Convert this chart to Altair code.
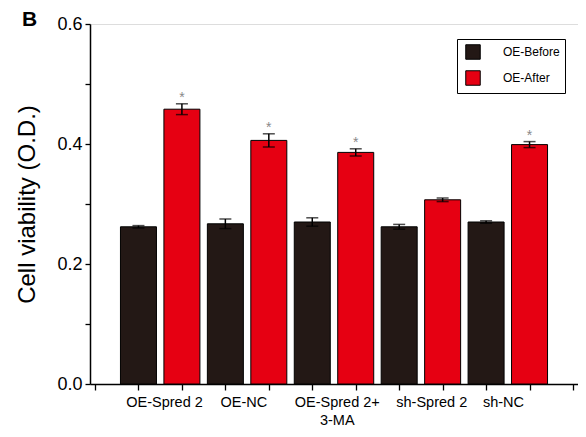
import altair as alt
import pandas as pd

groups = ["OE-Spred 2", "OE-NC", "OE-Spred 2+\n3-MA", "sh-Spred 2", "sh-NC"]
label_pos = [3.2, 6.85, 11.15, 15.5, 18.8]
before = [0.262, 0.267, 0.270, 0.262, 0.270]
before_err = [0.002, 0.008, 0.007, 0.004, 0.002]
after = [0.458, 0.406, 0.386, 0.307, 0.399]
after_err = [0.009, 0.011, 0.006, 0.003, 0.005]
stars = ["*", "*", "*", "", "*"]
series = ["OE-Before", "OE-After"]
colors = ["#231815", "#e60012"]

rows = []
for i, g in enumerate(groups):
    rows.append(dict(group=g, pos=2 + 4 * i, value=before[i], err=before_err[i],
                     series=series[0], star=""))
    rows.append(dict(group=g, pos=4 + 4 * i, value=after[i], err=after_err[i],
                     series=series[1], star=stars[i]))
df = pd.DataFrame(rows)
df["lo"] = df["value"] - df["err"]
df["hi"] = df["value"] + df["err"]

lab = pd.DataFrame({"label": groups, "pos": label_pos})

W, H = 488, 360
FONT = "Liberation Sans"

xs = alt.Scale(domain=[0, 22], nice=False, zero=False)
ys = alt.Scale(domain=[0, 0.6], nice=False)

x_axis = alt.Axis(values=list(range(23)), labels=False, tickSize=6, title=None,
                  domainColor="black", tickColor="black", domainWidth=1.5, tickWidth=1.3,
                  grid=False)
y_axis = alt.Axis(values=[0, 0.1, 0.2, 0.3, 0.4, 0.5, 0.6],
                  labelExpr="round(datum.value*10) % 2 == 0 ? format(datum.value, '.1f') : ''",
                  tickSize=5, grid=False, title="Cell viability (O.D.)",
                  titleFontSize=24, titleFont=FONT, titleFontWeight="normal",
                  titleColor="black", titlePadding=17,
                  labelFontSize=18, labelFont=FONT, labelColor="black", labelPadding=3,
                  domainColor="black", tickColor="black", domainWidth=1.5, tickWidth=1.3)

base = alt.Chart(df)

bars = base.mark_bar(size=36, stroke="black", strokeWidth=1).encode(
    x=alt.X("pos:Q", scale=xs, axis=x_axis),
    y=alt.Y("value:Q", scale=ys, axis=y_axis),
    color=alt.Color("series:N", scale=alt.Scale(domain=series, range=colors),
                    legend=alt.Legend(title=None, orient="none", legendX=367, legendY=15,
                                      symbolType="square", symbolSize=210,
                                      symbolStrokeColor="black", symbolStrokeWidth=1,
                                      symbolOpacity=1,
                                      labelFont=FONT, labelFontSize=12, labelColor="black",
                                      fillColor="white", strokeColor="black",
                                      padding=5, rowPadding=6, labelOffset=22,
                                      labelLimit=200, symbolOffset=3)),
)

rules = base.mark_rule(color="black", strokeWidth=1.5).encode(
    x="pos:Q", y="lo:Q", y2="hi:Q")
caps_hi = base.mark_tick(color="black", orient="horizontal", size=12, thickness=1.5).encode(
    x="pos:Q", y="hi:Q")
caps_lo = base.mark_tick(color="black", orient="horizontal", size=12, thickness=1.5).encode(
    x="pos:Q", y="lo:Q")
star_txt = base.mark_text(color="#888888", fontSize=14, font=FONT, dy=1,
                          baseline="bottom").encode(
    x="pos:Q", y="hi:Q", text="star:N")

labels = alt.Chart(lab).mark_text(font=FONT, fontSize=14.5, color="black", baseline="top",
                                  lineBreak="\n", lineHeight=18).encode(
    x=alt.X("pos:Q", scale=xs), y=alt.value(H + 12), text="label:N")

panel = alt.Chart(pd.DataFrame({"t": ["B"]})).mark_text(
    font=FONT, fontSize=21, fontWeight="bold", color="black", align="left",
    baseline="top").encode(x=alt.value(-68), y=alt.value(-15), text="t:N")

chart = alt.layer(bars, rules, caps_hi, caps_lo, star_txt, labels, panel).properties(
    width=W, height=H,
    autosize=alt.AutoSizeParams(type="none"),
    padding={"left": 82, "top": 16, "right": 0, "bottom": 45},
).configure_view(stroke="black", strokeWidth=1.5).configure(background="white")

chart.save("out.html", embed_options={"renderer": "svg", "actions": False})
